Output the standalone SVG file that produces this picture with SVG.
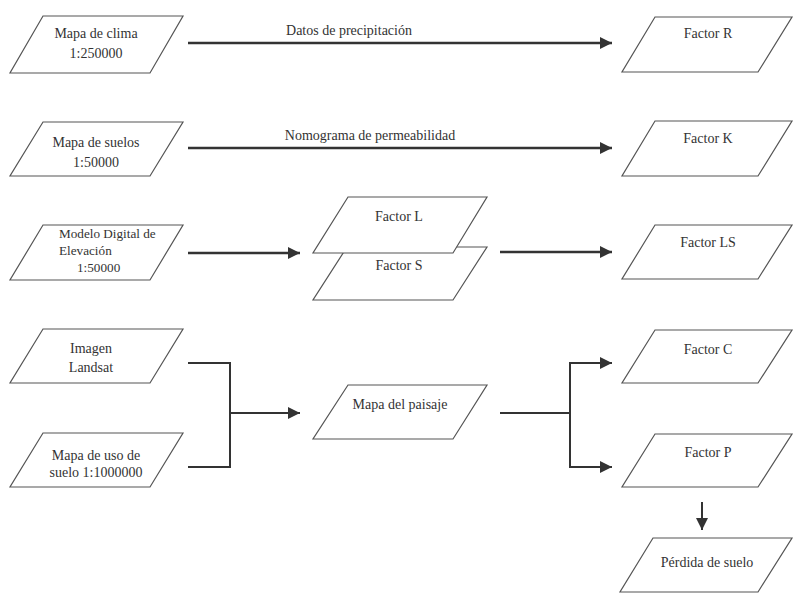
<svg xmlns="http://www.w3.org/2000/svg" width="800" height="605" viewBox="0 0 800 605" font-family="'Liberation Serif', 'Times New Roman', 'DejaVu Serif', serif">
<defs>
<style>
.n{fill:#fff;stroke:#555;stroke-width:1.2}
text{font-family:'Liberation Serif','Times New Roman','DejaVu Serif',serif;font-size:14px;fill:#333}
.t{text-anchor:middle}
.s{font-size:13.2px}
.c{fill:none;stroke:#333;stroke-width:2.5}
.c2{fill:none;stroke:#333;stroke-width:2}
</style>
<marker id="ah" viewBox="0 0 10 10" refX="10" refY="5" markerWidth="5" markerHeight="5" markerUnits="strokeWidth" orient="auto">
<path d="M0,0 L10,5 L0,10 z" fill="#333"/>
</marker>
<marker id="ah2" viewBox="0 0 10 10" refX="10" refY="5" markerWidth="6" markerHeight="6" markerUnits="strokeWidth" orient="auto">
<path d="M0,0 L10,5 L0,10 z" fill="#333"/>
</marker>
</defs>
<rect width="800" height="605" fill="#fff"/>

<g id="connectors">
<line class="c" x1="188" y1="43" x2="612" y2="43" marker-end="url(#ah)"/>
<text class="t" x="349" y="35">Datos de precipitación</text>
<line class="c" x1="188" y1="148" x2="612" y2="148" marker-end="url(#ah)"/>
<text class="t" x="370" y="140">Nomograma de permeabilidad</text>
<line class="c" x1="188" y1="253" x2="300" y2="253" marker-end="url(#ah)"/>
<line class="c" x1="500" y1="252" x2="612" y2="252" marker-end="url(#ah)"/>
<polyline class="c2" points="188,363 230,363 230,467 188,467"/>
<line class="c2" x1="230" y1="413" x2="300" y2="413" marker-end="url(#ah2)"/>
<line class="c2" x1="500" y1="413" x2="570" y2="413"/>
<polyline class="c2" points="600,363 570,363 570,467 600,467"/>
<line class="c2" x1="570" y1="363" x2="612" y2="363" marker-end="url(#ah2)"/>
<line class="c2" x1="570" y1="467" x2="612" y2="467" marker-end="url(#ah2)"/>
<line class="c2" x1="702" y1="502" x2="702" y2="530" marker-end="url(#ah2)"/>
</g>

<g id="mapa-clima">
<polygon class="n" points="43,16 183,16 150,73 10,73"/>
<text class="t" x="96" y="38">Mapa de clima</text>
<text class="t" x="96" y="58">1:250000</text>
</g>
<g id="factor-r">
<polygon class="n" points="655,17 792,17 758,72 622,72"/>
<text class="t" x="708" y="38">Factor R</text>
</g>

<g id="mapa-suelos">
<polygon class="n" points="43,122 183,122 150,176 10,176"/>
<text class="t" x="96" y="147">Mapa de suelos</text>
<text class="t" x="96" y="167">1:50000</text>
</g>
<g id="factor-k">
<polygon class="n" points="655,121 792,121 758,176 622,176"/>
<text class="t" x="708" y="143">Factor K</text>
</g>

<g id="mde">
<polygon class="n" points="43,225 183,225 150,280 10,280"/>
<text class="s" x="59" y="238">Modelo Digital de</text>
<text class="s" x="59" y="255">Elevación</text>
<text class="s" x="77" y="272">1:50000</text>
</g>
<g id="factor-s">
<polygon class="n" points="347,247 487,247 453,300 313,300"/>
<text class="t" x="399" y="270">Factor S</text>
</g>
<g id="factor-l">
<polygon class="n" points="348,197 487,197 453,253 313,253"/>
<text class="t" x="399" y="221">Factor L</text>
</g>
<g id="factor-ls">
<polygon class="n" points="655,225 792,225 758,279 622,279"/>
<text class="t" x="708" y="247">Factor LS</text>
</g>

<g id="imagen-landsat">
<polygon class="n" points="43,329 183,329 150,383 10,383"/>
<text class="t" x="91" y="353">Imagen</text>
<text class="t" x="91" y="372">Landsat</text>
</g>
<g id="mapa-uso">
<polygon class="n" points="43,433 183,433 150,487 10,487"/>
<text class="t" x="96" y="460">Mapa de uso de</text>
<text class="t" x="96" y="477">suelo 1:1000000</text>
</g>
<g id="mapa-paisaje">
<polygon class="n" points="348,385 487,385 453,439 313,439"/>
<text class="t" x="400" y="409">Mapa del paisaje</text>
</g>
<g id="factor-c">
<polygon class="n" points="655,330 792,330 758,383 622,383"/>
<text class="t" x="708" y="354">Factor C</text>
</g>
<g id="factor-p">
<polygon class="n" points="655,434 792,434 758,487 622,487"/>
<text class="t" x="708" y="457">Factor P</text>
</g>
<g id="perdida-suelo">
<polygon class="n" points="653,538 792,538 758,592 620,592"/>
<text class="t" x="707" y="567">Pérdida de suelo</text>
</g>
</svg>
